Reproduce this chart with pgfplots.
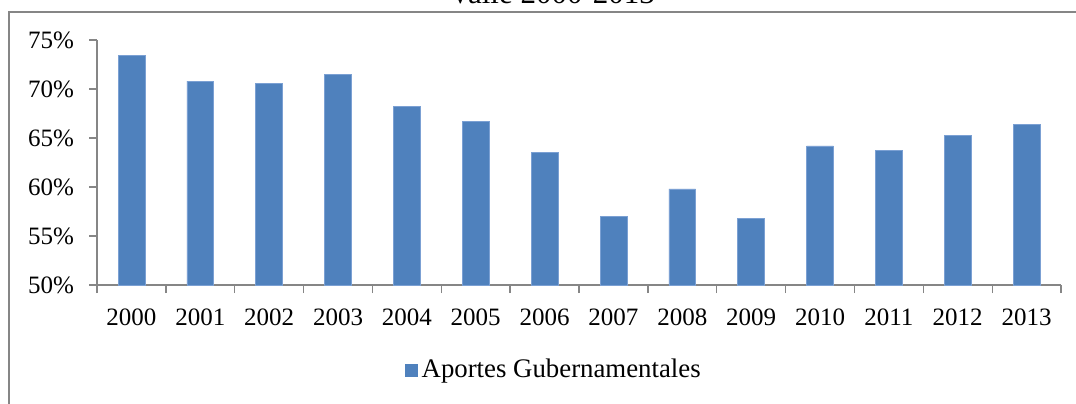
\documentclass[border=0pt]{standalone}
\usepackage{fontspec}
\setmainfont{Liberation Serif}
\usepackage{pgfplots}
\pgfplotsset{compat=1.18}
\definecolor{barblue}{HTML}{4F81BD}
\definecolor{baredge}{HTML}{7BA0D3}
\definecolor{axgray}{HTML}{868686}
\begin{document}
\begin{tikzpicture}[x=0.5pt,y=-0.5pt]
\path[use as bounding box] (0,0) rectangle (1076,403);
\clip (0,0) rectangle (1076,403);
\draw[axgray, line width=0.6pt] (9,420) -- (9,12) -- (1100,12);
\node[anchor=base, inner sep=0pt, font=\fontsize{15.5}{18}\selectfont] at (552,3) {Valle 2000-2013};
\coordinate (O) at (97,285);
\begin{axis}[
  at={(O)}, anchor=south west,
  width=482pt, height=122.5pt, scale only axis,
  xmin=-0.5, xmax=13.5, ymin=50, ymax=75,
  enlargelimits=false,
  axis x line*=bottom, axis y line*=left,
  axis line style={axgray, line width=0.65pt},
  xtick={-0.5,0.5,...,13.5},
  x tick label as interval,
  xticklabels={2000,2001,2002,2003,2004,2005,2006,2007,2008,2009,2010,2011,2012,2013},
  xticklabel style={yshift=-4.5pt},
  ytick={50,55,...,75},
  yticklabel={\pgfmathprintnumber{\tick}\%},
  yticklabel style={xshift=-4pt},
  tick style={axgray, line width=0.65pt},
  major tick length=4pt, tick align=outside,
  ticklabel style={font=\fontsize{12.5}{15}\selectfont, text=black},
  /pgf/number format/assume math mode=true,
  legend style={at={(0.475,-0.347)}, anchor=center, draw=none, fill=none,
    font=\fontsize{13.4}{16}\selectfont, inner sep=0pt},
]
\addplot[ybar, bar width=13.4pt, fill=barblue, draw=baredge, line width=0.3pt,
  legend image code/.code={\fill[barblue] (0pt,-3pt) rectangle (6pt,3pt);}]
  coordinates {
  (0,73.4) (1,70.8) (2,70.6) (3,71.5) (4,68.2) (5,66.7) (6,63.5)
  (7,57.0) (8,59.8) (9,56.8) (10,64.2) (11,63.7) (12,65.3) (13,66.4)
  };
\addlegendentry{Aportes Gubernamentales}
\end{axis}
\end{tikzpicture}
\end{document}
